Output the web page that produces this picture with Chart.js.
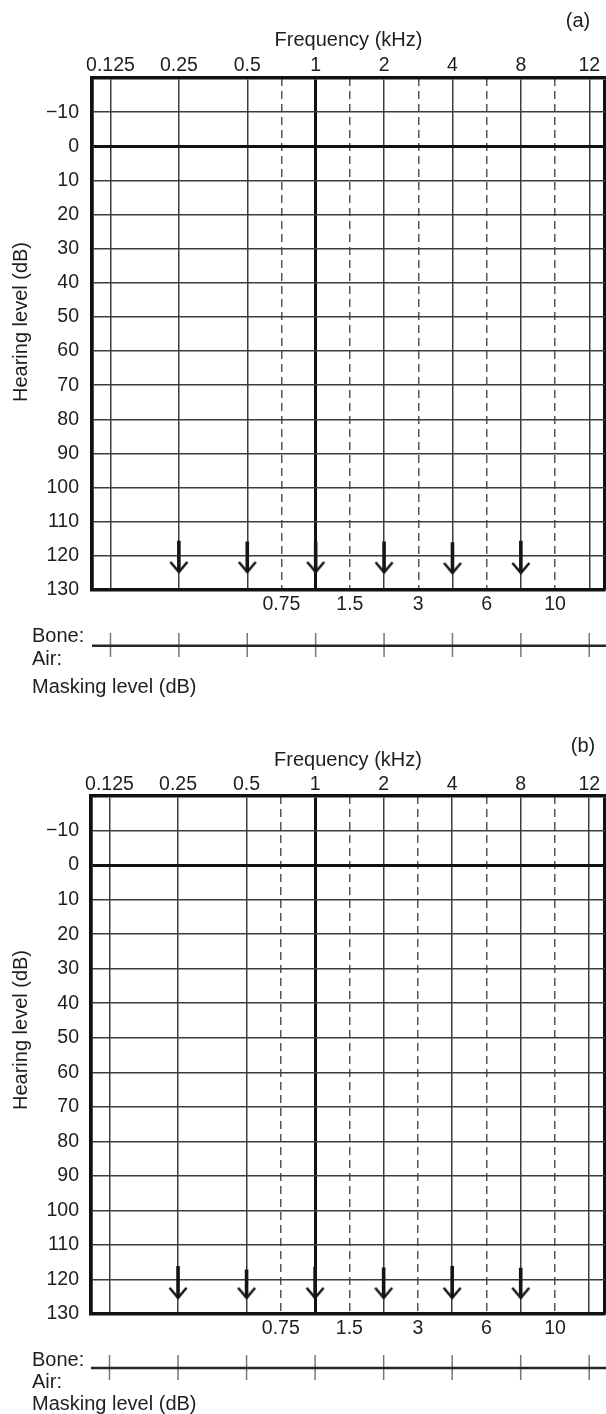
<!DOCTYPE html>
<html>
<head>
<meta charset="utf-8">
<title>Audiogram</title>
<script src="https://cdn.jsdelivr.net/npm/chart.js@4"></script>
<style>
  body { margin: 0; background: #fff; }
  .panel { position: relative; width: 606px; height: 707px; }
</style>
</head>
<body>
<div class="panel"><canvas id="chartA"></canvas></div>
<div class="panel"><canvas id="chartB"></canvas></div>
<script>
// octave frequencies (evenly spaced on the form) and the half-octave dashed lines
const freqLabels = ['0.125', '0.25', '0.5', '1', '2', '4', '8', '12'];
const halfLabels = ['0.75', '1.5', '3', '6', '10'];
const dbTicks = [-20, -10, 0, 10, 20, 30, 40, 50, 60, 70, 80, 90, 100, 110, 120, 130];

// no-response arrows: frequency, top of shaft and tip (dB HL)
const arrowFreqs = ['0.25', '0.5', '1', '2', '4', '8'];
const arrowTopA = [115.6, 115.8, 115.8, 115.8, 116.0, 115.6];
const arrowTipA = [124.7, 124.7, 124.7, 124.8, 125.0, 125.0];
const arrowTopB = [116.1, 117.1, 116.3, 116.5, 116.1, 116.6];
const arrowTipB = [125.3, 125.3, 125.3, 125.3, 125.3, 125.3];

const freqPos = freqLabels.map((_, i) => i);
const halfPos = halfLabels.map((_, i) => i + 2.5);
const xMin = -0.27;
const xMax = 7.23;

const FONT = '"Liberation Sans", Arial, Helvetica, sans-serif';
const INK = '#1e1e1e';

function minus(v) {
  return v < 0 ? '\u2212' + Math.abs(v) : String(v);
}

function makeHead() {
  const c = document.createElement('canvas');
  c.width = 22;
  c.height = 24;
  const g = c.getContext('2d');
  g.strokeStyle = '#151515';
  g.lineWidth = 2.5;
  g.beginPath();
  g.moveTo(2.5, 2);
  g.lineTo(11, 12);
  g.lineTo(19.5, 2);
  g.stroke();
  return c;
}
const headImg = makeHead();

function shaftPoints(tops, tips) {
  const pts = [];
  arrowFreqs.forEach((f, i) => {
    const x = freqLabels.indexOf(f);
    pts.push({ x: x, y: tops[i] }, { x: x, y: tips[i] }, { x: x, y: null });
  });
  return pts;
}

function headPoints(tips) {
  return arrowFreqs.map((f, i) => ({ x: freqLabels.indexOf(f), y: tips[i] }));
}

// masking strip, panel letter, y title and the labels under the grid
const maskStrip = {
  id: 'maskStrip',
  afterDraw(chart, args, o) {
    const ctx = chart.ctx;
    const xs = chart.scales.x;
    const area = chart.chartArea;
    ctx.save();
    ctx.strokeStyle = '#777';
    ctx.lineWidth = 1.5;
    freqPos.forEach(v => {
      const px = xs.getPixelForValue(v);
      ctx.beginPath();
      ctx.moveTo(px, o.tickTop);
      ctx.lineTo(px, o.tickBottom);
      ctx.stroke();
    });
    ctx.strokeStyle = '#262626';
    ctx.lineWidth = 2.5;
    ctx.beginPath();
    ctx.moveTo(area.left, o.lineY);
    ctx.lineTo(chart.width, o.lineY);
    ctx.stroke();

    ctx.fillStyle = INK;
    ctx.font = '20px ' + FONT;
    ctx.textBaseline = 'middle';
    ctx.textAlign = 'left';
    ctx.fillText('Bone:', 32, o.boneY);
    ctx.fillText('Air:', 32, o.airY);
    ctx.fillText('Masking level (dB)', 32, o.maskY);
    ctx.textAlign = 'center';
    ctx.fillText(o.panel, o.panelX, o.panelY);

    // y title sits a little above the middle of the grid
    ctx.translate(21, (area.top + area.bottom) / 2 + o.titleShift);
    ctx.rotate(-Math.PI / 2);
    ctx.fillText('Hearing level (dB)', 0, 0);
    ctx.restore();
  }
};

function makeChart(id, p) {
  const tickFont = { family: FONT, size: 19.5 };
  const titleFont = { family: FONT, size: 20 };
  return new Chart(document.getElementById(id), {
    type: 'line',
    data: {
      datasets: [
        {
          data: shaftPoints(p.tops, p.tips),
          xAxisID: 'x',
          yAxisID: 'y',
          borderColor: '#151515',
          borderWidth: 3.6,
          borderCapStyle: 'butt',
          pointRadius: 0,
          spanGaps: false
        },
        {
          data: headPoints(p.tips),
          xAxisID: 'x',
          yAxisID: 'y',
          showLine: false,
          pointStyle: headImg,
          pointRadius: 10
        }
      ]
    },
    options: {
      responsive: true,
      maintainAspectRatio: false,
      animation: false,
      layout: { autoPadding: false, padding: { left: 0, right: 1, top: 0, bottom: 0 } },
      plugins: {
        legend: { display: false },
        tooltip: { enabled: false },
        maskStrip: p.strip
      },
      scales: {
        x: {
          type: 'linear',
          position: 'top',
          min: xMin,
          max: xMax,
          afterFit: s => { s.height = p.top; },
          afterBuildTicks: s => { s.ticks = [xMin, ...freqPos, xMax].map(v => ({ value: v })); },
          ticks: {
            autoSkip: false,
            maxRotation: 0,
            padding: p.topTickPad,
            color: INK,
            font: tickFont,
            callback: v => {
              const i = freqPos.indexOf(v);
              return i >= 0 ? freqLabels[i] : '';
            }
          },
          grid: {
            drawTicks: false,
            lineWidth: c => {
              if (c.index === 0 || c.tick.value === xMax) return 3.5;
              return c.tick.value === 3 ? 3 : 1.5;
            },
            color: c => (c.tick.value === 3 || c.index === 0 || c.tick.value === xMax) ? '#111' : '#3c3c3c'
          },
          border: { width: 3.5, color: '#111' },
          title: {
            display: true,
            text: 'Frequency (kHz)',
            color: INK,
            font: titleFont,
            padding: { top: p.freqTitlePad, bottom: 0 }
          }
        },
        x2: {
          type: 'linear',
          position: 'bottom',
          min: xMin,
          max: xMax,
          afterFit: s => { s.height = 707 - p.bottom; },
          afterBuildTicks: s => { s.ticks = halfPos.map(v => ({ value: v })); },
          ticks: {
            autoSkip: false,
            maxRotation: 0,
            padding: p.bottomTickPad,
            color: INK,
            font: tickFont,
            callback: v => {
              const i = halfPos.indexOf(v);
              return i >= 0 ? halfLabels[i] : '';
            }
          },
          grid: { drawTicks: false, lineWidth: 1.5, color: '#555' },
          border: { width: 3.5, color: '#111', dash: [8, 5] }
        },
        y: {
          type: 'linear',
          position: 'left',
          reverse: true,
          min: -20,
          max: 130,
          afterFit: s => { s.width = p.left; },
          afterBuildTicks: s => { s.ticks = dbTicks.map(v => ({ value: v })); },
          ticks: {
            padding: p.left - 79,
            color: INK,
            font: tickFont,
            callback: v => (v === -20 ? '' : minus(v))
          },
          grid: {
            drawTicks: false,
            lineWidth: c => (c.tick.value === 0 ? 3 : 1.5),
            color: c => (c.tick.value === 0 ? '#111' : '#3c3c3c')
          },
          border: { width: 3.5, color: '#111' }
        }
      }
    },
    plugins: [maskStrip]
  });
}

makeChart('chartA', {
  top: 78, bottom: 590, left: 92,
  topTickPad: 0.5, bottomTickPad: 2.5, freqTitlePad: 28,
  tops: arrowTopA, tips: arrowTipA,
  strip: { lineY: 645.7, tickTop: 633, tickBottom: 657, boneY: 636, airY: 659, maskY: 687,
           panel: '(a)', panelX: 578, panelY: 21, titleShift: -12 }
});

makeChart('chartB', {
  top: 89, bottom: 607, left: 91,
  topTickPad: 0, bottomTickPad: 3, freqTitlePad: 41,
  tops: arrowTopB, tips: arrowTipB,
  strip: { lineY: 661, tickTop: 648, tickBottom: 673, boneY: 653, airY: 675, maskY: 697,
           panel: '(b)', panelX: 583, panelY: 39, titleShift: -25 }
});
</script>
</body>
</html>
